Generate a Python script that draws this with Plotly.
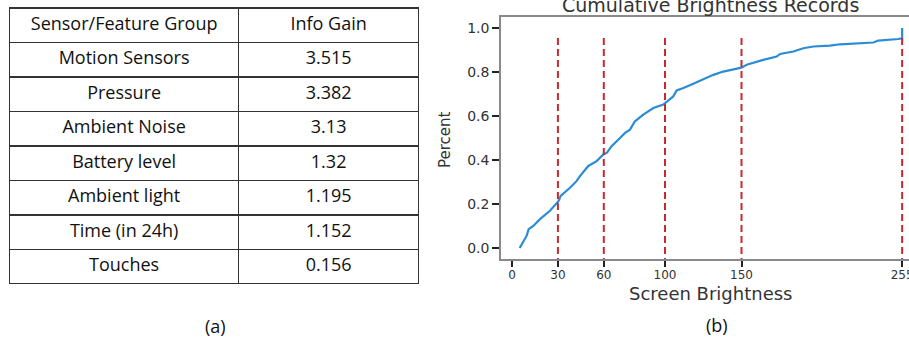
import plotly.graph_objects as go

# ---- Table data (a) ----
table_header = ["Sensor/Feature Group", "Info Gain"]
feature_groups = ["Motion Sensors", "Pressure", "Ambient Noise", "Battery level",
                  "Ambient light", "Time (in 24h)", "Touches"]
info_gain = [3.515, 3.382, 3.13, 1.32, 1.195, 1.152, 0.156]

# ---- CDF data (b) ----
brightness = [5, 9.6, 10.9, 13.9, 18.3, 24.8, 30.5, 31.8, 37.9, 42.3, 44.4, 49.9, 55.3,
              59.7, 62.1, 65.1, 70.6, 73.9, 77.1, 80.4, 85.8, 92.4, 98.9, 100.2, 103.3,
              105.4, 107.6, 112, 118.5, 125, 131.6, 138.1, 144.6, 149.9, 153.4, 158.8,
              164.2, 173, 175.2, 183.9, 190.4, 197, 207.8, 214.4, 225.3, 236.2, 239.4,
              247, 252.5, 255, 255]
cum_percent = [0.0, 0.056, 0.086, 0.10, 0.131, 0.169, 0.214, 0.237, 0.274, 0.305, 0.327,
               0.373, 0.395, 0.425, 0.433, 0.463, 0.50, 0.523, 0.538, 0.576, 0.606, 0.636,
               0.652, 0.659, 0.674, 0.689, 0.716, 0.727, 0.747, 0.768, 0.787, 0.802, 0.813,
               0.82, 0.833, 0.845, 0.855, 0.87, 0.882, 0.893, 0.908, 0.916, 0.92, 0.926,
               0.931, 0.934, 0.943, 0.946, 0.95, 0.953, 1.0]
x_tick_vals = [0, 30, 60, 100, 150, 255]
y_tick_vals = [0.0, 0.2, 0.4, 0.6, 0.8, 1.0]
threshold_lines = [30, 60, 100, 150, 255]

W, H = 909, 341
fig = go.Figure()

fig.add_trace(go.Table(
    domain=dict(x=[9.5 / W, 419 / W], y=[1 - 284 / H, 1 - 8 / H]),
    columnwidth=[229.5, 180],
    header=dict(values=table_header, height=34.5, align="center",
                fill_color="white", line=dict(color="#333333", width=1.5),
                font=dict(family="Open Sans", size=18, color="#111111")),
    cells=dict(values=[feature_groups, [str(v) for v in info_gain]], height=34.5,
               align="center", fill_color="white",
               line=dict(color="#333333", width=1.5),
               font=dict(family="Open Sans", size=18, color="#111111")),
))

fig.add_trace(go.Scatter(
    x=brightness, y=cum_percent, mode="lines",
    line=dict(color="#2b8cd6", width=2.2), showlegend=False, hoverinfo="skip",
))

for xv in threshold_lines:
    fig.add_shape(type="line", xref="x", yref="y", x0=xv, x1=xv, y0=0.955, y1=-0.05,
                  line=dict(color="#c8282e", width=2, dash="7px,4px"), layer="above")

px_per_unit = 1.53
x_left = (501 - 512) / px_per_unit
x_right = (909 - 512) / px_per_unit

fig.update_layout(
    width=W, height=H, margin=dict(l=0, r=0, t=0, b=0, autoexpand=False),
    paper_bgcolor="white", plot_bgcolor="white", showlegend=False,
    font=dict(family="DejaVu Sans", color="#333"),
    xaxis=dict(domain=[501 / W, 1.0], range=[x_left, x_right], tickvals=x_tick_vals,
               ticktext=[str(v) for v in x_tick_vals], ticklabeloverflow="allow",
               automargin=False,
               showline=True, linecolor="#8a8a8a", linewidth=1.5, mirror=True,
               ticks="outside", ticklen=6, tickwidth=2, tickcolor="#222",
               showgrid=False, zeroline=False, ticklabelstandoff=-2,
               tickfont=dict(family="DejaVu Sans", size=12, color="#333")),
    yaxis=dict(domain=[1 - 259 / H, 1 - 17 / H], range=[-0.05, 1.05], tickvals=y_tick_vals,
               tickformat=".1f", showline=True, linecolor="#8a8a8a", linewidth=1.5,
               automargin=False,
               ticks="outside", ticklen=7, tickwidth=2, tickcolor="#222",
               showgrid=False, zeroline=False,
               tickfont=dict(family="DejaVu Sans", size=14, color="#333")),
)

fig.add_annotation(text="Cumulative Brightness Records", xref="paper", yref="paper",
                   x=710 / W, y=1 - 5 / H, xanchor="center", yanchor="middle", showarrow=False,
                   font=dict(family="DejaVu Sans", size=19, color="#333"))
fig.add_annotation(text="Screen Brightness", xref="paper", yref="paper",
                   x=711 / W, y=1 - 293 / H, xanchor="center", yanchor="middle", showarrow=False,
                   font=dict(family="DejaVu Sans", size=18, color="#333"))
fig.add_annotation(text="Percent", xref="paper", yref="paper", textangle=-90,
                   x=445 / W, y=1 - 140 / H, xanchor="center", yanchor="middle", showarrow=False,
                   font=dict(family="DejaVu Sans", size=15, color="#333"))
fig.add_annotation(text="(a)", xref="paper", yref="paper",
                   x=215 / W, y=1 - 326 / H, xanchor="center", yanchor="middle", showarrow=False,
                   font=dict(family="Open Sans", size=18, color="#111"))
fig.add_annotation(text="(b)", xref="paper", yref="paper",
                   x=717 / W, y=1 - 325 / H, xanchor="center", yanchor="middle", showarrow=False,
                   font=dict(family="Open Sans", size=18, color="#111"))

fig.write_html("out.html", config={"displayModeBar": False},
               post_script="document.body.style.margin='0';")
